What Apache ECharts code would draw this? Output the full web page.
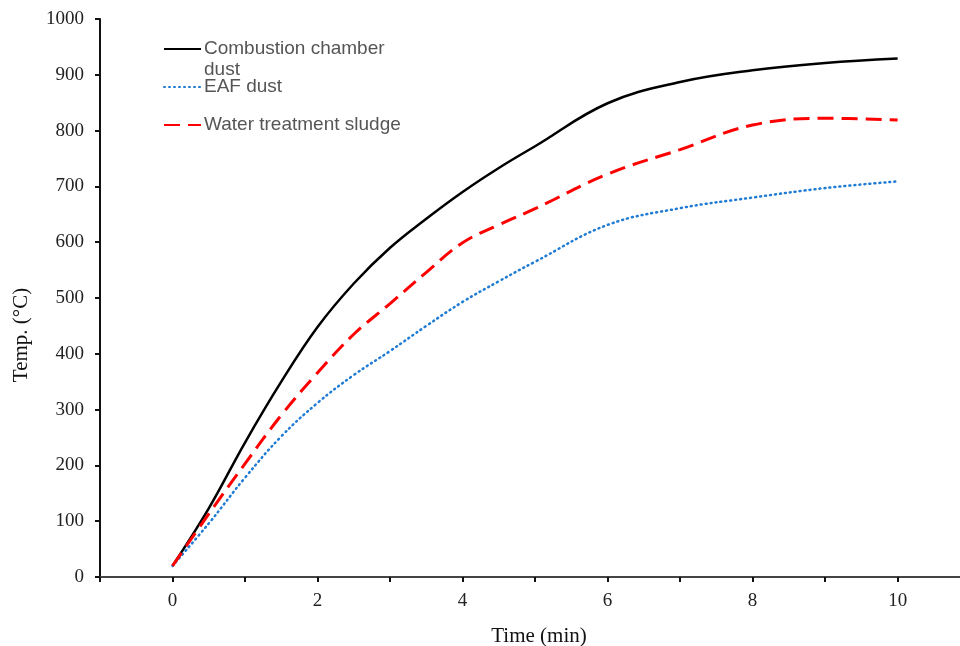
<!DOCTYPE html>
<html>
<head>
<meta charset="utf-8">
<script src="https://cdn.jsdelivr.net/npm/echarts@6/dist/echarts.min.js"></script>
<style>
  html, body { margin: 0; padding: 0; background: #fff; }
  #chart { width: 960px; height: 646px; }
</style>
</head>
<body>
<div id="chart"></div>
<script>
// time (min)
var times = [0, 0.5, 1, 1.5, 2, 2.5, 3, 3.5, 4, 4.5, 5, 6, 7, 8, 9, 10]
// temperatures (°C)
var combustionDust = [20, 123, 241, 350, 448, 526, 590, 642, 690, 733, 772, 849, 887, 908, 921, 929]
var eafDust = [20, 96, 178, 252, 312, 362, 405, 450, 493, 530, 565, 631, 661, 680, 697, 709]
var sludge = [20, 113, 203, 290, 366, 435, 490, 546, 599, 631, 660, 722, 766, 810, 822, 819]
var xTicks = [0, 2, 4, 6, 8, 10]

function pairs (xs, ys) {
  var out = []
  for (var i = 0; i < xs.length; i++) out.push([xs[i], ys[i]])
  return out
}

var serif = 'Liberation Serif'
var sans = 'Liberation Sans'
var myChart = echarts.init(document.getElementById('chart'))

// one legend per entry so each can sit where it does in the figure
function legendAt (name, top, blankFirstLine) {
  return {
    data: [name],
    left: 158,
    top: top,
    itemWidth: 37,
    itemHeight: 12,
    itemGap: 0,
    selectedMode: false,
    itemStyle: { opacity: 0 },
    // a blank first line keeps the line sample level with the first text line
    formatter: function (n) { return blankFirstLine ? ' \n' + n : n },
    textStyle: { fontFamily: sans, fontSize: 19, color: '#555', padding: [0, 0, 0, -2], lineHeight: 21 }
  }
}

myChart.setOption({
  animation: false,
  grid: { left: 100, right: 0, top: 19, bottom: 69, containLabel: false, outerBoundsMode: 'none' },
  legend: [
    legendAt('Combustion chamber\ndust', 12.5, true),
    legendAt('EAF dust', 71.5, false),
    legendAt('Water treatment sludge', 109.5, false)
  ],
  xAxis: [{
    type: 'value',
    min: -1,
    max: 10.86,
    interval: 1,
    name: 'Time (min)',
    nameLocation: 'middle',
    nameGap: 49,
    nameTextStyle: { fontFamily: serif, fontSize: 21, color: '#111', padding: [0, 0, 0, 18] },
    axisLine: { show: true, onZero: false, lineStyle: { color: '#111', width: 2 } },
    axisTick: { show: true, inside: false, length: 5, lineStyle: { color: '#111', width: 2 } },
    axisLabel: {
      margin: 15,
      fontFamily: serif,
      fontSize: 19,
      color: '#222',
      showMaxLabel: false,
      formatter: function (v) {
        return xTicks.indexOf(v) >= 0 ? String(v) : ''
      }
    },
    splitLine: { show: false }
  }, {
    type: 'value',
    position: 'top',
    min: -1,
    max: 10.86,
    axisLine: { show: true, lineStyle: { color: '#444', width: 2 } },
    axisTick: { show: false },
    axisLabel: { show: false },
    splitLine: { show: false }
  }],
  yAxis: {
    type: 'value',
    min: 0,
    max: 1000,
    interval: 100,
    name: 'Temp. (°C)',
    nameLocation: 'middle',
    nameGap: 68,
    nameTextStyle: { fontFamily: serif, fontSize: 21, color: '#111', padding: [0, 74, 0, 0] },
    axisLine: { show: true, onZero: false, lineStyle: { color: '#111', width: 2 } },
    axisTick: { show: true, inside: false, length: 5, lineStyle: { color: '#111', width: 2 } },
    axisLabel: {
      margin: 16,
      fontFamily: serif,
      fontSize: 19,
      color: '#222',
      formatter: function (v) { return String(v) }
    },
    splitLine: { show: false }
  },
  series: [{
    name: 'Combustion chamber\ndust',
    type: 'line',
    smooth: 0.4,
    symbol: 'none',
    data: pairs(times, combustionDust),
    lineStyle: { color: '#000', width: 2.5, type: 'solid' },
    itemStyle: { color: '#000' }
  }, {
    name: 'EAF dust',
    type: 'line',
    smooth: 0.4,
    symbol: 'none',
    data: pairs(times, eafDust),
    lineStyle: { color: '#1f7bd4', width: 2.5, type: [1, 4], cap: 'round' },
    itemStyle: { color: '#1f7bd4' }
  }, {
    name: 'Water treatment sludge',
    type: 'line',
    smooth: 0.4,
    symbol: 'none',
    data: pairs(times, sludge),
    lineStyle: { color: '#ff0000', width: 3, type: [16, 8] },
    itemStyle: { color: '#ff0000' }
  }]
})
</script>
</body>
</html>
